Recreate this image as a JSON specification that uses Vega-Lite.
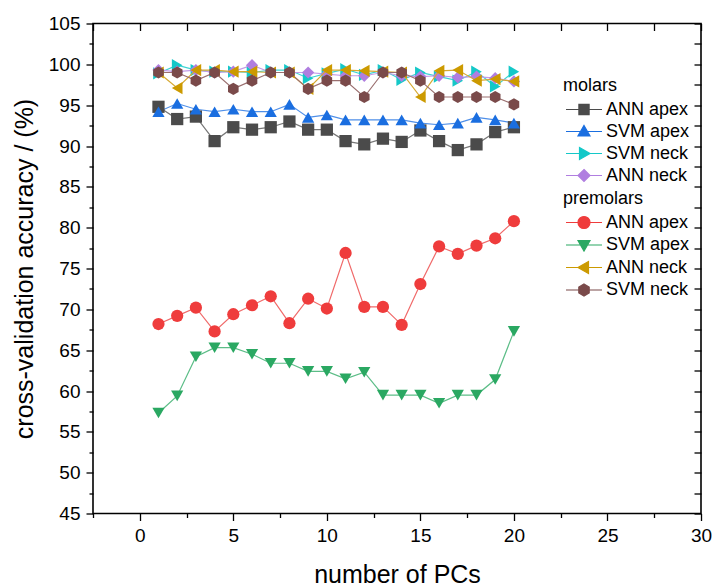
{
"$schema": "https://vega.github.io/schema/vega-lite/v6.json",
"width": 608, "height": 490,
"autosize": {"type": "none"},
"padding": {"left": 93, "top": 23.5, "right": 12, "bottom": 74.5},
"background": "white",
"config": {
 "view": {"stroke": "#000", "strokeWidth": 1.6},
 "font": "Liberation Sans",
 "axis": {"labelFont": "Liberation Sans", "titleFont": "Liberation Sans", "labelColor": "#000", "titleColor": "#000", "tickColor": "#000", "domainColor": "#000", "grid": false, "labelFontSize": 19, "titleFontSize": 25, "titleFontWeight": "normal", "tickWidth": 1.3, "labelOverlap": false, "labelFlush": false},
 "legend": {"labelFont": "Liberation Sans", "titleFont": "Liberation Sans", "labelFontSize": 18, "titleFontSize": 18, "titleFontWeight": "normal", "labelColor": "#000", "titleColor": "#000", "padding": 0}
},
"data": {"values": [
{"g":"molars","s":"ANN apex","pc":1,"v":94.8},{"g":"molars","s":"ANN apex","pc":2,"v":93.3},{"g":"molars","s":"ANN apex","pc":3,"v":93.6},{"g":"molars","s":"ANN apex","pc":4,"v":90.6},{"g":"molars","s":"ANN apex","pc":5,"v":92.3},{"g":"molars","s":"ANN apex","pc":6,"v":92.0},{"g":"molars","s":"ANN apex","pc":7,"v":92.3},{"g":"molars","s":"ANN apex","pc":8,"v":93.0},{"g":"molars","s":"ANN apex","pc":9,"v":92.0},{"g":"molars","s":"ANN apex","pc":10,"v":92.0},{"g":"molars","s":"ANN apex","pc":11,"v":90.6},{"g":"molars","s":"ANN apex","pc":12,"v":90.2},{"g":"molars","s":"ANN apex","pc":13,"v":90.9},{"g":"molars","s":"ANN apex","pc":14,"v":90.5},{"g":"molars","s":"ANN apex","pc":15,"v":91.9},{"g":"molars","s":"ANN apex","pc":16,"v":90.6},{"g":"molars","s":"ANN apex","pc":17,"v":89.5},{"g":"molars","s":"ANN apex","pc":18,"v":90.2},{"g":"molars","s":"ANN apex","pc":19,"v":91.7},{"g":"molars","s":"ANN apex","pc":20,"v":92.3},
{"g":"molars","s":"SVM apex","pc":1,"v":94.2},{"g":"molars","s":"SVM apex","pc":2,"v":95.2},{"g":"molars","s":"SVM apex","pc":3,"v":94.5},{"g":"molars","s":"SVM apex","pc":4,"v":94.2},{"g":"molars","s":"SVM apex","pc":5,"v":94.5},{"g":"molars","s":"SVM apex","pc":6,"v":94.2},{"g":"molars","s":"SVM apex","pc":7,"v":94.2},{"g":"molars","s":"SVM apex","pc":8,"v":95.1},{"g":"molars","s":"SVM apex","pc":9,"v":93.5},{"g":"molars","s":"SVM apex","pc":10,"v":93.8},{"g":"molars","s":"SVM apex","pc":11,"v":93.2},{"g":"molars","s":"SVM apex","pc":12,"v":93.2},{"g":"molars","s":"SVM apex","pc":13,"v":93.2},{"g":"molars","s":"SVM apex","pc":14,"v":93.2},{"g":"molars","s":"SVM apex","pc":15,"v":92.8},{"g":"molars","s":"SVM apex","pc":16,"v":92.6},{"g":"molars","s":"SVM apex","pc":17,"v":92.8},{"g":"molars","s":"SVM apex","pc":18,"v":93.5},{"g":"molars","s":"SVM apex","pc":19,"v":93.2},{"g":"molars","s":"SVM apex","pc":20,"v":92.8},
{"g":"molars","s":"SVM neck","pc":1,"v":98.9},{"g":"molars","s":"SVM neck","pc":2,"v":99.9},{"g":"molars","s":"SVM neck","pc":3,"v":99.3},{"g":"molars","s":"SVM neck","pc":4,"v":99.1},{"g":"molars","s":"SVM neck","pc":5,"v":99.1},{"g":"molars","s":"SVM neck","pc":6,"v":99.0},{"g":"molars","s":"SVM neck","pc":7,"v":99.3},{"g":"molars","s":"SVM neck","pc":8,"v":99.3},{"g":"molars","s":"SVM neck","pc":9,"v":98.3},{"g":"molars","s":"SVM neck","pc":10,"v":98.9},{"g":"molars","s":"SVM neck","pc":11,"v":99.4},{"g":"molars","s":"SVM neck","pc":12,"v":98.7},{"g":"molars","s":"SVM neck","pc":13,"v":99.3},{"g":"molars","s":"SVM neck","pc":14,"v":98.1},{"g":"molars","s":"SVM neck","pc":15,"v":99.0},{"g":"molars","s":"SVM neck","pc":16,"v":98.5},{"g":"molars","s":"SVM neck","pc":17,"v":98.0},{"g":"molars","s":"SVM neck","pc":18,"v":99.1},{"g":"molars","s":"SVM neck","pc":19,"v":97.3},{"g":"molars","s":"SVM neck","pc":20,"v":99.1},
{"g":"molars","s":"ANN neck","pc":1,"v":99.3},{"g":"molars","s":"ANN neck","pc":2,"v":99.1},{"g":"molars","s":"ANN neck","pc":3,"v":99.3},{"g":"molars","s":"ANN neck","pc":4,"v":99.0},{"g":"molars","s":"ANN neck","pc":5,"v":99.1},{"g":"molars","s":"ANN neck","pc":6,"v":99.9},{"g":"molars","s":"ANN neck","pc":7,"v":99.0},{"g":"molars","s":"ANN neck","pc":8,"v":99.0},{"g":"molars","s":"ANN neck","pc":9,"v":99.0},{"g":"molars","s":"ANN neck","pc":10,"v":98.8},{"g":"molars","s":"ANN neck","pc":11,"v":98.6},{"g":"molars","s":"ANN neck","pc":12,"v":98.6},{"g":"molars","s":"ANN neck","pc":13,"v":99.0},{"g":"molars","s":"ANN neck","pc":14,"v":98.6},{"g":"molars","s":"ANN neck","pc":15,"v":98.5},{"g":"molars","s":"ANN neck","pc":16,"v":98.6},{"g":"molars","s":"ANN neck","pc":17,"v":98.4},{"g":"molars","s":"ANN neck","pc":18,"v":98.5},{"g":"molars","s":"ANN neck","pc":19,"v":98.3},{"g":"molars","s":"ANN neck","pc":20,"v":97.9},
{"g":"premolars","s":"ANN apex","pc":1,"v":68.2},{"g":"premolars","s":"ANN apex","pc":2,"v":69.2},{"g":"premolars","s":"ANN apex","pc":3,"v":70.2},{"g":"premolars","s":"ANN apex","pc":4,"v":67.3},{"g":"premolars","s":"ANN apex","pc":5,"v":69.4},{"g":"premolars","s":"ANN apex","pc":6,"v":70.5},{"g":"premolars","s":"ANN apex","pc":7,"v":71.6},{"g":"premolars","s":"ANN apex","pc":8,"v":68.3},{"g":"premolars","s":"ANN apex","pc":9,"v":71.3},{"g":"premolars","s":"ANN apex","pc":10,"v":70.1},{"g":"premolars","s":"ANN apex","pc":11,"v":76.9},{"g":"premolars","s":"ANN apex","pc":12,"v":70.3},{"g":"premolars","s":"ANN apex","pc":13,"v":70.3},{"g":"premolars","s":"ANN apex","pc":14,"v":68.1},{"g":"premolars","s":"ANN apex","pc":15,"v":73.1},{"g":"premolars","s":"ANN apex","pc":16,"v":77.7},{"g":"premolars","s":"ANN apex","pc":17,"v":76.8},{"g":"premolars","s":"ANN apex","pc":18,"v":77.8},{"g":"premolars","s":"ANN apex","pc":19,"v":78.7},{"g":"premolars","s":"ANN apex","pc":20,"v":80.8},
{"g":"premolars","s":"SVM apex","pc":1,"v":57.3},{"g":"premolars","s":"SVM apex","pc":2,"v":59.4},{"g":"premolars","s":"SVM apex","pc":3,"v":64.2},{"g":"premolars","s":"SVM apex","pc":4,"v":65.3},{"g":"premolars","s":"SVM apex","pc":5,"v":65.3},{"g":"premolars","s":"SVM apex","pc":6,"v":64.5},{"g":"premolars","s":"SVM apex","pc":7,"v":63.4},{"g":"premolars","s":"SVM apex","pc":8,"v":63.4},{"g":"premolars","s":"SVM apex","pc":9,"v":62.4},{"g":"premolars","s":"SVM apex","pc":10,"v":62.4},{"g":"premolars","s":"SVM apex","pc":11,"v":61.5},{"g":"premolars","s":"SVM apex","pc":12,"v":62.3},{"g":"premolars","s":"SVM apex","pc":13,"v":59.5},{"g":"premolars","s":"SVM apex","pc":14,"v":59.5},{"g":"premolars","s":"SVM apex","pc":15,"v":59.5},{"g":"premolars","s":"SVM apex","pc":16,"v":58.5},{"g":"premolars","s":"SVM apex","pc":17,"v":59.5},{"g":"premolars","s":"SVM apex","pc":18,"v":59.5},{"g":"premolars","s":"SVM apex","pc":19,"v":61.4},{"g":"premolars","s":"SVM apex","pc":20,"v":67.3},
{"g":"premolars","s":"ANN neck","pc":1,"v":99.0},{"g":"premolars","s":"ANN neck","pc":2,"v":97.1},{"g":"premolars","s":"ANN neck","pc":3,"v":99.3},{"g":"premolars","s":"ANN neck","pc":4,"v":99.3},{"g":"premolars","s":"ANN neck","pc":5,"v":99.1},{"g":"premolars","s":"ANN neck","pc":6,"v":99.1},{"g":"premolars","s":"ANN neck","pc":7,"v":99.0},{"g":"premolars","s":"ANN neck","pc":8,"v":99.0},{"g":"premolars","s":"ANN neck","pc":9,"v":97.0},{"g":"premolars","s":"ANN neck","pc":10,"v":99.3},{"g":"premolars","s":"ANN neck","pc":11,"v":99.3},{"g":"premolars","s":"ANN neck","pc":12,"v":99.2},{"g":"premolars","s":"ANN neck","pc":13,"v":99.1},{"g":"premolars","s":"ANN neck","pc":14,"v":99.0},{"g":"premolars","s":"ANN neck","pc":15,"v":96.0},{"g":"premolars","s":"ANN neck","pc":16,"v":99.2},{"g":"premolars","s":"ANN neck","pc":17,"v":99.3},{"g":"premolars","s":"ANN neck","pc":18,"v":98.0},{"g":"premolars","s":"ANN neck","pc":19,"v":98.2},{"g":"premolars","s":"ANN neck","pc":20,"v":97.9},
{"g":"premolars","s":"SVM neck","pc":1,"v":99.0},{"g":"premolars","s":"SVM neck","pc":2,"v":99.0},{"g":"premolars","s":"SVM neck","pc":3,"v":98.0},{"g":"premolars","s":"SVM neck","pc":4,"v":99.0},{"g":"premolars","s":"SVM neck","pc":5,"v":97.0},{"g":"premolars","s":"SVM neck","pc":6,"v":98.0},{"g":"premolars","s":"SVM neck","pc":7,"v":99.0},{"g":"premolars","s":"SVM neck","pc":8,"v":99.0},{"g":"premolars","s":"SVM neck","pc":9,"v":97.0},{"g":"premolars","s":"SVM neck","pc":10,"v":98.0},{"g":"premolars","s":"SVM neck","pc":11,"v":98.0},{"g":"premolars","s":"SVM neck","pc":12,"v":96.0},{"g":"premolars","s":"SVM neck","pc":13,"v":99.0},{"g":"premolars","s":"SVM neck","pc":14,"v":99.0},{"g":"premolars","s":"SVM neck","pc":15,"v":98.0},{"g":"premolars","s":"SVM neck","pc":16,"v":96.0},{"g":"premolars","s":"SVM neck","pc":17,"v":96.0},{"g":"premolars","s":"SVM neck","pc":18,"v":96.0},{"g":"premolars","s":"SVM neck","pc":19,"v":96.0},{"g":"premolars","s":"SVM neck","pc":20,"v":95.1}
]},
"resolve": {
 "scale": {"color": "independent", "shape": "independent", "stroke": "independent"},
 "axis": {"x": "independent", "y": "independent"},
 "legend": {"color": "independent", "shape": "independent", "stroke": "independent"}
},
"layer": [
 {
  "transform": [{"filter": "datum.g === 'molars'"}],
  "mark": {"type": "line", "strokeWidth": 1.2},
  "encoding": {
   "x": {"field": "pc", "type": "quantitative", "scale": {"domain": [-2.5, 30], "nice": false, "zero": false},
     "axis": {"orient": "bottom", "values": [0,5,10,15,20,25,30], "tickSize": 7, "labelPadding": 6, "title": "number of PCs", "titlePadding": 17, "domain": false}},
   "y": {"field": "v", "type": "quantitative", "scale": {"domain": [45, 105], "nice": false, "zero": false},
     "axis": {"orient": "left", "values": [45,50,55,60,65,70,75,80,85,90,95,100,105], "tickSize": 7, "labelPadding": 6, "title": "cross-validation accuracy / (%)", "titlePadding": 11, "domain": false}},
   "color": {"field": "s", "type": "nominal", "scale": {"domain": ["ANN apex","SVM apex","SVM neck","ANN neck"], "range": ["#777777","#4f8fe8","#3dd3d3","#c39be8"]}, "legend": null}
  }
 },
 {
  "transform": [{"filter": "datum.g === 'molars'"}],
  "mark": {"type": "point", "filled": true, "size": 150, "opacity": 1},
  "encoding": {
   "x": {"field": "pc", "type": "quantitative", "axis": {"orient": "bottom", "values": [-2.5,2.5,7.5,12.5,17.5,22.5,27.5], "tickSize": 4, "labels": false, "domain": false, "title": null}},
   "y": {"field": "v", "type": "quantitative", "axis": {"orient": "left", "values": [47.5,52.5,57.5,62.5,67.5,72.5,77.5,82.5,87.5,92.5,97.5,102.5], "tickSize": 4, "labels": false, "domain": false, "title": null}},
   "color": {"field": "s", "type": "nominal", "scale": {"domain": ["ANN apex","SVM apex","SVM neck","ANN neck"], "range": ["#4b4b4b","#1a6ee0","#14c8c8","#b07ee0"]}, "legend": null},
   "shape": {"field": "s", "type": "nominal", "scale": {"domain": ["ANN apex","SVM apex","SVM neck","ANN neck"], "range": ["square","triangle-up","triangle-right","diamond"]}, "legend": null}
  }
 },
 {
  "transform": [{"filter": "datum.g === 'premolars'"}],
  "mark": {"type": "line", "strokeWidth": 1.2},
  "encoding": {
   "x": {"field": "pc", "type": "quantitative", "axis": {"orient": "top", "values": [-2.5,0,2.5,5,7.5,10,12.5,15,17.5,20,22.5,25,27.5,30], "tickSize": 7, "offset": -7, "labels": false, "domain": false, "title": null}},
   "y": {"field": "v", "type": "quantitative", "axis": {"orient": "right", "values": [45,47.5,50,52.5,55,57.5,60,62.5,65,67.5,70,72.5,75,77.5,80,82.5,85,87.5,90,92.5,95,97.5,100,102.5,105], "tickSize": 7, "offset": -7, "labels": false, "domain": false, "title": null}},
   "color": {"field": "s", "type": "nominal", "scale": {"domain": ["ANN apex","SVM apex","ANN neck","SVM neck"], "range": ["#f06a6a","#5cbd87","#d6a933","#9a6f6f"]}, "legend": null}
  }
 },
 {
  "transform": [{"filter": "datum.g === 'premolars'"}],
  "mark": {"type": "point", "filled": true, "size": 150, "opacity": 1},
  "encoding": {
   "x": {"field": "pc", "type": "quantitative", "axis": null},
   "y": {"field": "v", "type": "quantitative", "axis": null},
   "color": {"field": "s", "type": "nominal", "scale": {"domain": ["ANN apex","SVM apex","ANN neck","SVM neck"], "range": ["#ef3c3c","#2aa862","#cc9a00","#7a4a4a"]}, "legend": null},
   "shape": {"field": "s", "type": "nominal", "scale": {"domain": ["ANN apex","SVM apex","ANN neck","SVM neck"], "range": ["circle","triangle-down","triangle-left","M0,-1L0.866,-0.5L0.866,0.5L0,1L-0.866,0.5L-0.866,-0.5Z"]}, "legend": null}
  }
 },
 {
  "transform": [{"filter": "datum.g === 'molars'"}],
  "mark": {"type": "point", "filled": true, "opacity": 0},
  "encoding": {
   "x": {"field": "pc", "type": "quantitative", "axis": null},
   "y": {"field": "v", "type": "quantitative", "axis": null},
   "color": {"field": "s", "type": "nominal", "scale": {"domain": ["ANN apex","SVM apex","SVM neck","ANN neck"], "range": ["#4b4b4b","#1a6ee0","#14c8c8","#b07ee0"]},
     "legend": {"title": "molars", "orient": "none", "legendX": 470, "legendY": 53, "symbolSize": 144, "symbolOffset": 12, "labelOffset": 13, "rowPadding": 4, "titlePadding": 6, "symbolOpacity": 1, "symbolStrokeWidth": 1.2}},
   "stroke": {"field": "s", "type": "nominal", "scale": {"domain": ["ANN apex","SVM apex","SVM neck","ANN neck"], "range": ["#4b4b4b","#1a6ee0","#14c8c8","#b07ee0"]},
     "legend": {"title": "molars", "orient": "none", "legendX": 470, "legendY": 53, "symbolSize": 144, "symbolOffset": 12, "labelOffset": 13, "rowPadding": 4, "titlePadding": 6, "symbolOpacity": 1, "symbolStrokeWidth": 1.2}},
   "shape": {"field": "s", "type": "nominal", "scale": {"domain": ["ANN apex","SVM apex","SVM neck","ANN neck"], "range": ["M-3,0H3M-0.85,-0.85H0.85V0.85H-0.85Z","M-3,0H3M0,-1L1,0.75L-1,0.75Z","M-3,0H3M-0.75,-1L1,0L-0.75,1Z","M-3,0H3M0,-1L1,0L0,1L-1,0Z"]},
     "legend": {"title": "molars", "orient": "none", "legendX": 470, "legendY": 53, "symbolSize": 144, "symbolOffset": 12, "labelOffset": 13, "rowPadding": 4, "titlePadding": 6, "symbolOpacity": 1, "symbolStrokeWidth": 1.2}}
  }
 },
 {
  "transform": [{"filter": "datum.g === 'premolars'"}],
  "mark": {"type": "point", "filled": true, "opacity": 0},
  "encoding": {
   "x": {"field": "pc", "type": "quantitative", "axis": null},
   "y": {"field": "v", "type": "quantitative", "axis": null},
   "color": {"field": "s", "type": "nominal", "scale": {"domain": ["ANN apex","SVM apex","ANN neck","SVM neck"], "range": ["#ef3c3c","#2aa862","#cc9a00","#7a4a4a"]},
     "legend": {"title": "premolars", "orient": "none", "legendX": 470, "legendY": 166, "symbolSize": 144, "symbolOffset": 12, "labelOffset": 13, "rowPadding": 4.5, "titlePadding": 6, "symbolOpacity": 1, "symbolStrokeWidth": 1.2}},
   "stroke": {"field": "s", "type": "nominal", "scale": {"domain": ["ANN apex","SVM apex","ANN neck","SVM neck"], "range": ["#ef3c3c","#2aa862","#cc9a00","#7a4a4a"]},
     "legend": {"title": "premolars", "orient": "none", "legendX": 470, "legendY": 166, "symbolSize": 144, "symbolOffset": 12, "labelOffset": 13, "rowPadding": 4.5, "titlePadding": 6, "symbolOpacity": 1, "symbolStrokeWidth": 1.2}},
   "shape": {"field": "s", "type": "nominal", "scale": {"domain": ["ANN apex","SVM apex","ANN neck","SVM neck"], "range": ["M-3,0H3M1,0A1,1 0 1,1 -1,0A1,1 0 1,1 1,0Z","M-3,0H3M-1,-0.75L1,-0.75L0,1Z","M-3,0H3M0.75,-1L-1,0L0.75,1Z","M-3,0H3M0,-1L0.866,-0.5L0.866,0.5L0,1L-0.866,0.5L-0.866,-0.5Z"]},
     "legend": {"title": "premolars", "orient": "none", "legendX": 470, "legendY": 166, "symbolSize": 144, "symbolOffset": 12, "labelOffset": 13, "rowPadding": 4.5, "titlePadding": 6, "symbolOpacity": 1, "symbolStrokeWidth": 1.2}}
  }
 }
]
}
